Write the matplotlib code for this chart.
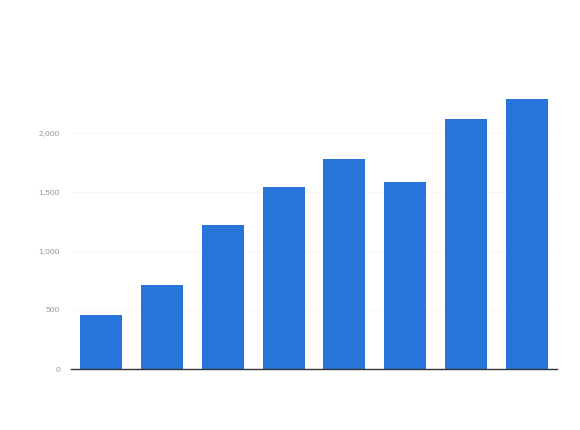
import matplotlib
matplotlib.use("Agg")
import matplotlib.pyplot as plt

categories = ["A", "B", "C", "D", "E", "F", "G", "H"]
values = [458, 712, 1220, 1542, 1780, 1585, 2119, 2288]
yticks = [0, 500, 1000, 1500, 2000]
ytick_labels = ["0", "500", "1,000", "1,500", "2,000"]

plt.rcParams["font.family"] = ["Liberation Sans", "DejaVu Sans"]

fig = plt.figure(figsize=(5.8, 4.3), dpi=100)
ax = fig.add_axes([71/580, 1-369/430, (557-71)/580, (369-74)/430])
x = list(range(len(categories)))
ax.bar(x, values, width=0.69, color="#2775d9", zorder=2)
ax.set_xlim(-0.5, len(categories) - 0.5)
ax.set_ylim(0, 2500)
ax.set_yticks(yticks)
ax.set_yticklabels(ytick_labels, fontsize=6, color="#999999")
ax.set_xticks([])
ax.tick_params(axis="y", length=0, pad=8)
for s in ["top", "right", "left"]:
    ax.spines[s].set_visible(False)
ax.spines["bottom"].set_color("#333333")
ax.spines["bottom"].set_linewidth(1.0)
ax.grid(axis="y", color="#f6f6f6", linewidth=0.6, zorder=0)
fig.savefig("out.png", dpi=100)
